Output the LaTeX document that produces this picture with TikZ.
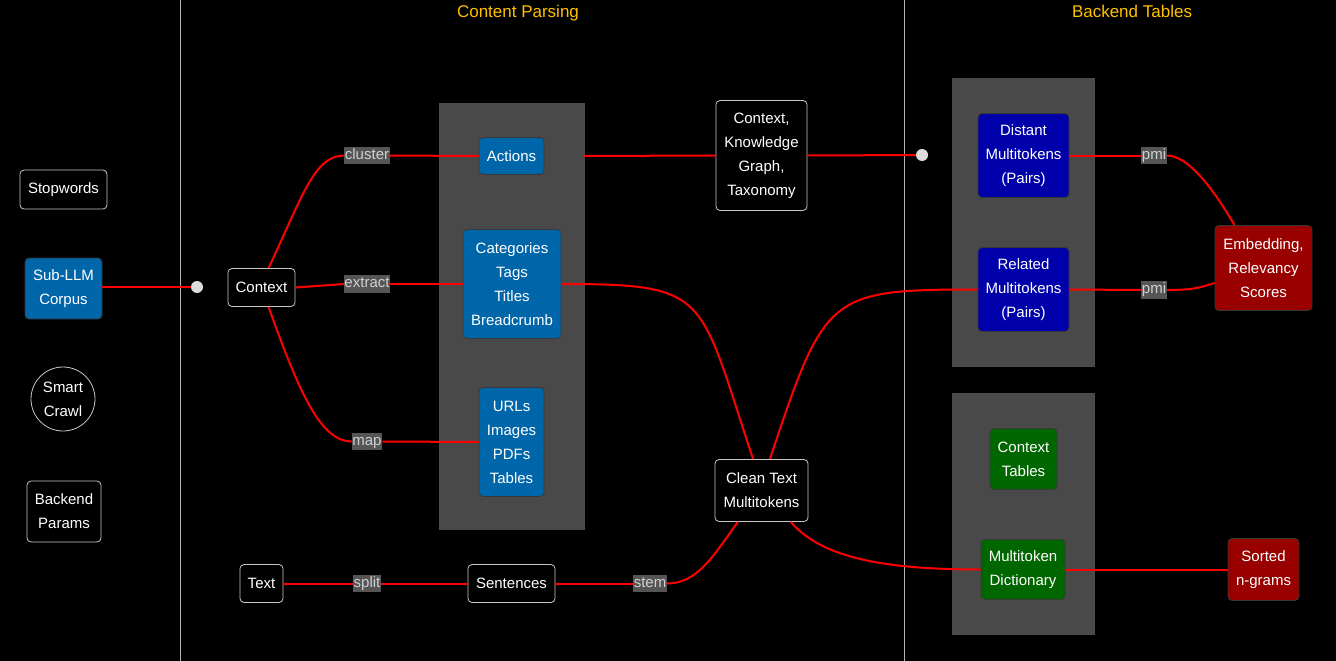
\documentclass[tikz,border=0pt]{standalone}
\usepackage{fontspec}
\setmainfont{Liberation Sans}
\usetikzlibrary{calc}

\definecolor{panelgray}{HTML}{494949}
\definecolor{lblgray}{HTML}{555555}
\definecolor{lbltext}{HTML}{D0D0D0}
\definecolor{rimgray}{HTML}{C8C8C8}
\definecolor{splitgray}{HTML}{B4B4B4}
\definecolor{corpusblue}{HTML}{0066AA}
\definecolor{pairblue}{HTML}{0000AA}
\definecolor{tablegreen}{HTML}{006600}
\definecolor{scorered}{HTML}{990000}
\definecolor{titleorange}{HTML}{FFC000}
\definecolor{wirered}{HTML}{FF0000}
\definecolor{dotgray}{HTML}{DDDDDD}

\tikzset{
	every node/.style={font=\fontsize{15}{24}\selectfont},
	plainbox/.style={draw=rimgray, fill=black, text=white, rounded corners=4pt, align=center, inner sep=0pt, line width=0.8pt},
	colorbox/.style={draw=white!22!black, fill=#1, text=white, rounded corners=4pt, align=center, inner sep=0pt, line width=0.8pt},
	edgelabel/.style={fill=lblgray, text=lbltext, inner xsep=0.5pt, inner ysep=1.5pt, text height=11pt, text depth=3.5pt},
	panel/.style={fill=panelgray, draw=white!30!black, inner sep=0pt},
	wire/.style={draw=wirered, line width=2pt},
	junction/.style={circle, fill=dotgray, inner sep=0pt, minimum size=12pt},
	heading/.style={text=titleorange, font=\fontsize{17}{20}\selectfont, anchor=base},
}

\begin{document}
\begin{tikzpicture}[x=1pt, y=-1pt]
	%%%%% START %%%%%
	
	\fill[black] (0,0) rectangle (1336,661);
	\useasboundingbox (0,0) rectangle (1336,661);
	
	\draw[splitgray, line width=1pt] (180,0) -- (180,661);
	\draw[splitgray, line width=1pt] (904,0) -- (904,661);
	
	\node[heading] (parsehead) at (518,18) {Content Parsing};
	\node[heading] (tablehead) at (1132,18) {Backend Tables};
	
	\node[panel, minimum width=145pt, minimum height=426pt] (parsepanel) at (511.5,316) {};
	\node[panel, minimum width=142pt, minimum height=288pt] (pairpanel) at (1023,222) {};
	\node[panel, minimum width=142pt, minimum height=241pt] (dictpanel) at (1023,513.5) {};
	
	% sources
	\node[plainbox, minimum width=87pt, minimum height=39pt] (stopwords) at (63.5,189.5) {Stopwords};
	\node[colorbox=corpusblue, minimum width=77pt, minimum height=61pt] (corpus) at (63.5,288.5) {Sub-LLM\\Corpus};
	\node[plainbox, circle, sharp corners, minimum size=64pt] (crawl) at (63,399) {Smart\\Crawl};
	\node[plainbox, minimum width=74pt, minimum height=61pt] (params) at (64,511.5) {Backend\\Params};
	
	% content parsing
	\node[junction] (leftjoin) at (197,287) {};
	\node[plainbox, minimum width=67pt, minimum height=38pt] (context) at (261.5,287.5) {Context};
	\node[edgelabel] (cluster) at (367,155.5) {cluster};
	\node[edgelabel] (extract) at (367,284) {extract};
	\node[edgelabel] (map) at (367,441.5) {map};
	\node[colorbox=corpusblue, minimum width=65pt, minimum height=37pt] (actions) at (511.5,156) {Actions};
	\node[colorbox=corpusblue, minimum width=98pt, minimum height=109pt] (categories) at (512,284) {Categories\\Tags\\Titles\\Breadcrumb};
	\node[colorbox=corpusblue, minimum width=65pt, minimum height=109pt] (urls) at (511.5,442) {URLs\\Images\\PDFs\\Tables};
	\node[plainbox, minimum width=91pt, minimum height=110pt] (graph) at (761.5,155.5) {Context,\\Knowledge\\Graph,\\Taxonomy};
	\node[junction] (rightjoin) at (922,155) {};
	\node[plainbox, minimum width=43pt, minimum height=38pt] (text) at (261.5,583.5) {Text};
	\node[edgelabel] (split) at (367,583.5) {split};
	\node[plainbox, minimum width=87pt, minimum height=38pt] (sentences) at (511.5,583.5) {Sentences};
	\node[edgelabel] (stem) at (650,583.5) {stem};
	\node[plainbox, minimum width=93pt, minimum height=62pt] (clean) at (761.5,490.5) {Clean Text\\Multitokens};
	
	% backend tables
	\node[colorbox=pairblue, minimum width=91pt, minimum height=84pt] (distant) at (1023.5,155.5) {Distant\\Multitokens\\(Pairs)};
	\node[colorbox=pairblue, minimum width=91pt, minimum height=84pt] (related) at (1023.5,289.5) {Related\\Multitokens\\(Pairs)};
	\node[edgelabel] (pmitop) at (1154,155.5) {pmi};
	\node[edgelabel] (pmibottom) at (1154,290) {pmi};
	\node[colorbox=scorered, minimum width=97pt, minimum height=85pt] (embedding) at (1263.5,268) {Embedding,\\Relevancy\\Scores};
	\node[colorbox=tablegreen, minimum width=67pt, minimum height=61pt] (ctxtables) at (1023.5,459) {Context\\Tables};
	\node[colorbox=tablegreen, minimum width=84pt, minimum height=60pt] (dictionary) at (1023,569.5) {Multitoken\\Dictionary};
	\node[colorbox=scorered, minimum width=71pt, minimum height=62pt] (ngrams) at (1263.5,569.5) {Sorted\\n-grams};
	
	% wires
	\draw[wire] (corpus.east |- leftjoin) -- (leftjoin);
	\draw[wire] (context.70) .. controls +(34,-72) and +(-30,0) .. (cluster.west);
	\draw[wire] (cluster.east) -- (actions.west);
	\draw[wire] (context.east) -- (extract.west);
	\draw[wire] (extract.east) -- (categories.west);
	\draw[wire] (context.290) .. controls +(32,90) and +(-30,0) .. (map.west);
	\draw[wire] (map.east) -- (urls.west);
	\draw[wire] (parsepanel.east |- actions.east) -- (graph.west);
	\draw[wire] (graph.east) -- (rightjoin);
	\draw[wire] (categories.east) .. controls +(150,0) and +(-55,-165) .. (clean.105);
	\draw[wire] (clean.75) .. controls +(55,-165) and +(-150,0) .. (related.west);
	\draw[wire] (text.east) -- (split.west);
	\draw[wire] (split.east) -- (sentences.west);
	\draw[wire] (sentences.east) -- (stem.west);
	\draw[wire] (stem.east) .. controls +(30,0) and +(-25,35) .. (clean.233);
	\draw[wire] (clean.-47) .. controls +(30,35) and +(-100,0) .. (dictionary.west);
	\draw[wire] (dictionary.east) -- (ngrams.west);
	\draw[wire] (distant.east) -- (pmitop.west);
	\draw[wire] (pmitop.east) .. controls +(25,0) and +(-15,-25) .. (embedding.124);
	\draw[wire] (related.east) -- (pmibottom.west);
	\draw[wire] (pmibottom.east) .. controls +(25,0) and +(-15,5) .. (embedding.197);
	
	%%%%% END %%%%%
\end{tikzpicture}
\end{document}
